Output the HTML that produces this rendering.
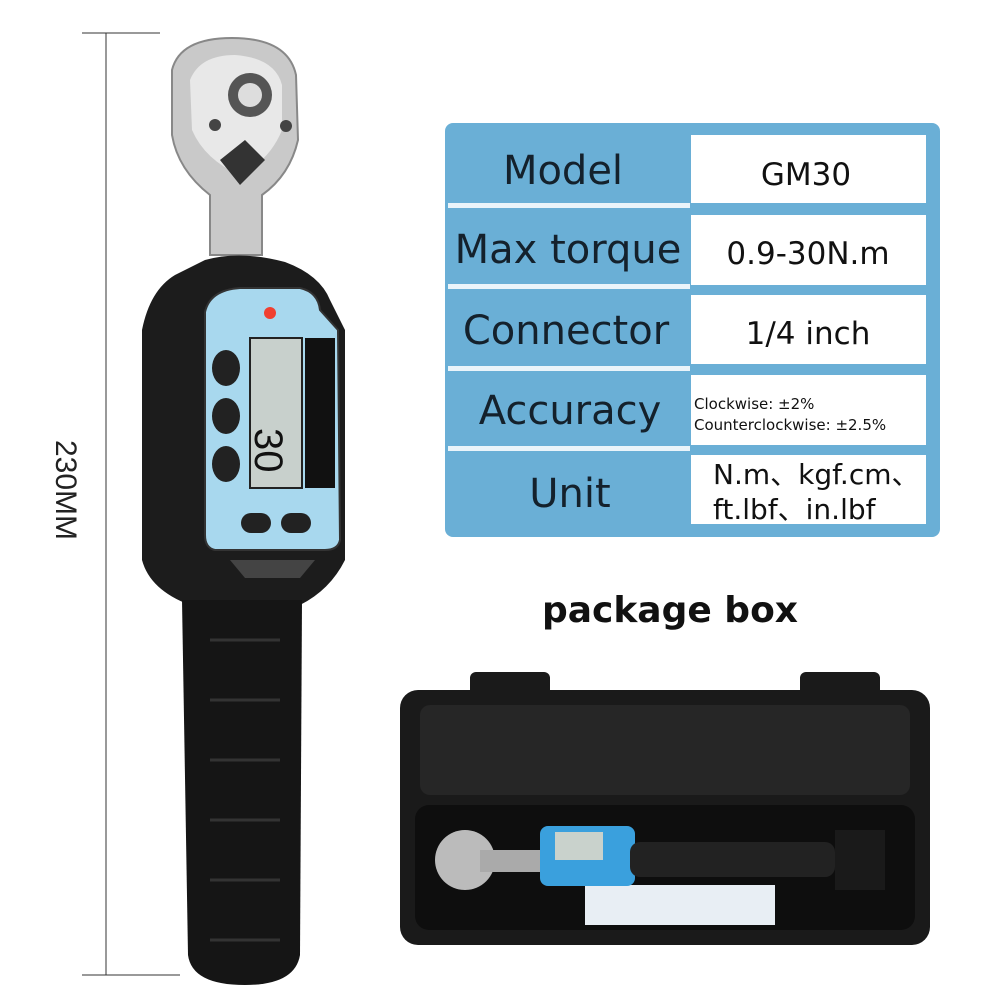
<!DOCTYPE html>
<html><head><meta charset="utf-8"><style>
html,body{margin:0;padding:0;background:#fff;}
svg{display:block}
</style></head><body>
<svg width="1000" height="1000" viewBox="0 0 1000 1000" xmlns="http://www.w3.org/2000/svg" font-family="Liberation Sans, DejaVu Sans, sans-serif">
<line x1="82" y1="33" x2="160" y2="33" stroke="#333" stroke-width="1"/>
<line x1="82" y1="975" x2="180" y2="975" stroke="#333" stroke-width="1"/>
<line x1="106" y1="33" x2="106" y2="975" stroke="#333" stroke-width="1"/>
<text x="0" y="0" font-size="30" fill="#222" transform="translate(56,440) rotate(90)">230MM</text>

<path d="M172 70 Q180 38 232 38 Q288 38 296 75 L298 140 Q290 175 262 195 L262 255 L210 255 L210 195 Q178 170 172 135 Z" fill="#c9c9c9" stroke="#888" stroke-width="2"/>
<path d="M190 80 Q200 55 235 55 Q275 58 282 85 L282 130 Q270 160 240 175 Q205 160 192 130 Z" fill="#e8e8e8"/>
<circle cx="250" cy="95" r="22" fill="#555"/><circle cx="250" cy="95" r="12" fill="#ddd"/>
<circle cx="215" cy="125" r="6" fill="#444"/><circle cx="286" cy="126" r="6" fill="#444"/>
<path d="M220 160 L245 140 L265 160 L240 185 Z" fill="#333"/>
<path d="M205 260 Q240 250 285 262 Q320 275 330 300 L345 330 L345 560 Q330 590 300 605 L190 605 Q150 590 142 560 L142 330 Q150 290 175 275 Z" fill="#1c1c1c"/>
<path d="M205 312 Q210 290 240 288 L300 288 Q318 292 320 310 L338 330 L340 540 Q338 550 325 550 L215 550 Q205 548 205 535 Z" fill="#a8d8ee" stroke="#333" stroke-width="2"/>
<circle cx="270" cy="313" r="6" fill="#f04030"/>
<rect x="250" y="338" width="52" height="150" fill="#c8d0cc" stroke="#222" stroke-width="2"/>
<text x="0" y="0" font-size="40" fill="#111" transform="translate(255,428) rotate(90)">30</text>
<rect x="305" y="338" width="30" height="150" fill="#111"/>
<ellipse cx="226" cy="368" rx="14" ry="18" fill="#222"/>
<ellipse cx="226" cy="416" rx="14" ry="18" fill="#222"/>
<ellipse cx="226" cy="464" rx="14" ry="18" fill="#222"/>
<rect x="241" y="513" width="30" height="20" rx="10" fill="#222"/>
<rect x="281" y="513" width="30" height="20" rx="10" fill="#222"/>
<path d="M230 560 L315 560 L300 578 L245 578 Z" fill="#444"/>
<path d="M182 600 L302 600 L300 955 Q295 985 245 985 Q192 985 188 955 Z" fill="#151515"/>
<g stroke="#333" stroke-width="3">
<line x1="210" y1="640" x2="280" y2="640"/><line x1="210" y1="700" x2="280" y2="700"/>
<line x1="210" y1="760" x2="280" y2="760"/><line x1="210" y1="820" x2="280" y2="820"/>
<line x1="210" y1="880" x2="280" y2="880"/><line x1="210" y1="940" x2="280" y2="940"/>
</g>

<rect x="445" y="123" width="495" height="414" rx="8" fill="#6aafd6"/>
<g fill="#eaf4fa">
<rect x="448" y="203" width="242" height="5"/><rect x="448" y="284" width="242" height="5"/>
<rect x="448" y="366" width="242" height="5"/><rect x="448" y="446" width="242" height="5"/>
</g>
<g fill="#fff">
<rect x="691" y="135" width="235" height="68"/><rect x="691" y="215" width="235" height="70"/>
<rect x="691" y="295" width="235" height="69"/><rect x="691" y="375" width="235" height="70"/>
<rect x="691" y="455" width="235" height="69"/>
</g>
<g fill="#14212c" font-size="40" text-anchor="middle" font-family="DejaVu Sans, sans-serif">
<text x="563" y="184">Model</text>
<text x="568" y="263">Max torque</text>
<text x="566" y="344">Connector</text>
<text x="570" y="424">Accuracy</text>
<text x="570" y="507">Unit</text>
</g>
<g fill="#111" font-size="31" text-anchor="middle" font-family="DejaVu Sans, sans-serif">
<text x="806" y="185">GM30</text>
<text x="808" y="264">0.9-30N.m</text>
<text x="808" y="344">1/4 inch</text>
</g>
<text x="694" y="409" font-size="15" fill="#111" font-family="DejaVu Sans, sans-serif">Clockwise: ±2%</text>
<text x="694" y="430" font-size="15" fill="#111" font-family="DejaVu Sans, sans-serif">Counterclockwise: ±2.5%</text>
<text x="713" y="484" font-size="28" fill="#111" font-family="DejaVu Sans, Noto Sans CJK SC, sans-serif">N.m、kgf.cm、</text>
<text x="713" y="519" font-size="28" fill="#111" font-family="DejaVu Sans, Noto Sans CJK SC, sans-serif">ft.lbf、in.lbf</text>

<text x="670" y="622" font-size="36" font-weight="bold" fill="#111" text-anchor="middle" font-family="DejaVu Sans, sans-serif">package box</text>

<rect x="470" y="672" width="80" height="28" rx="6" fill="#1a1a1a"/>
<rect x="800" y="672" width="80" height="28" rx="6" fill="#1a1a1a"/>
<rect x="400" y="690" width="530" height="255" rx="18" fill="#1a1a1a"/>
<rect x="420" y="705" width="490" height="90" rx="10" fill="#262626"/>
<rect x="415" y="805" width="500" height="125" rx="14" fill="#0e0e0e"/>
<rect x="585" y="885" width="190" height="40" fill="#e8eef4"/>
<circle cx="465" cy="860" r="30" fill="#bbb"/>
<rect x="480" y="850" width="80" height="22" fill="#aaa"/>
<rect x="540" y="826" width="95" height="60" rx="8" fill="#3aa0dd"/>
<rect x="555" y="832" width="48" height="28" fill="#c9d2cc"/>
<rect x="630" y="842" width="205" height="35" rx="10" fill="#222"/>
<rect x="835" y="830" width="50" height="60" fill="#1a1a1a"/>
</svg>
</body></html>
